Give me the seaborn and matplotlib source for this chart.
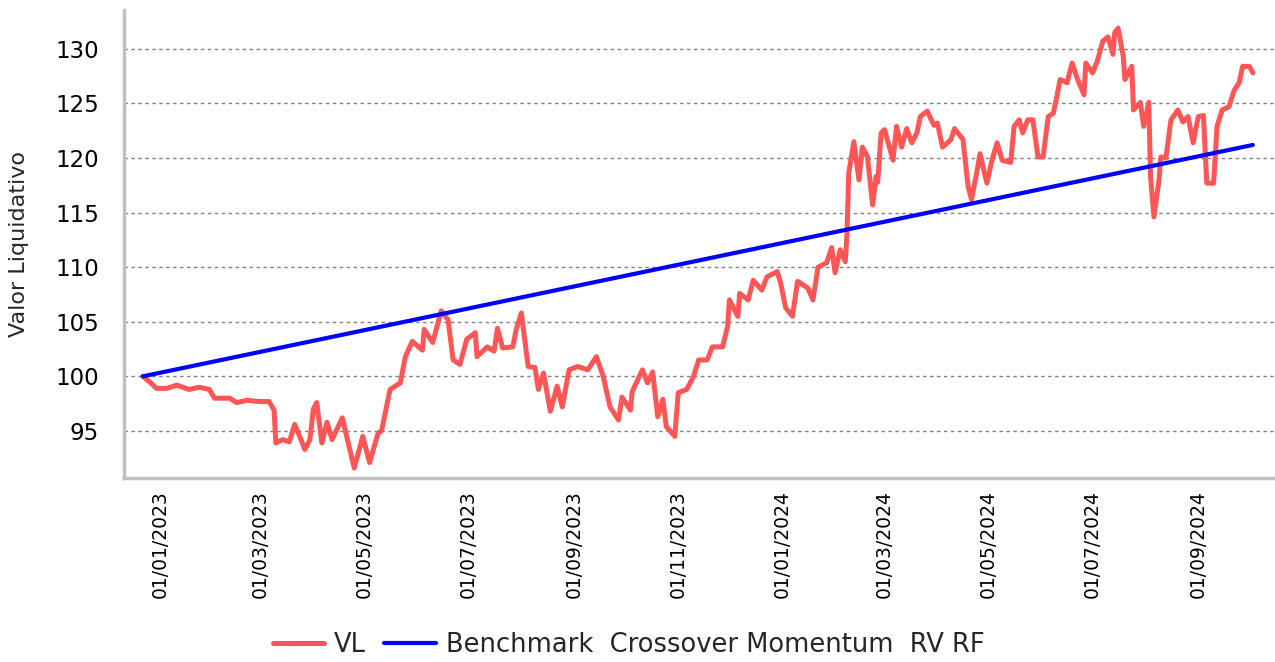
import matplotlib
matplotlib.use("Agg")
import matplotlib.pyplot as plt
import matplotlib.dates as mdates
import pandas as pd
import seaborn as sns

# Valor liquidativo (VL)
vl_datas = [
    "2022-12-22", "2022-12-26", "2022-12-30", "2023-01-05", "2023-01-11", "2023-01-18",
    "2023-01-24", "2023-01-30", "2023-02-02", "2023-02-11", "2023-02-15", "2023-02-21",
    "2023-02-28", "2023-03-06", "2023-03-09", "2023-03-10", "2023-03-14", "2023-03-18",
    "2023-03-21", "2023-03-24", "2023-03-27", "2023-03-30", "2023-04-01", "2023-04-03",
    "2023-04-06", "2023-04-09", "2023-04-12", "2023-04-18", "2023-04-21", "2023-04-25",
    "2023-04-30", "2023-05-04", "2023-05-09", "2023-05-11", "2023-05-16", "2023-05-22",
    "2023-05-25", "2023-05-29", "2023-06-04", "2023-06-05", "2023-06-10", "2023-06-15",
    "2023-06-19", "2023-06-22", "2023-06-26", "2023-06-30", "2023-07-05", "2023-07-06",
    "2023-07-12", "2023-07-16", "2023-07-18", "2023-07-21", "2023-07-27", "2023-07-29",
    "2023-08-01", "2023-08-05", "2023-08-09", "2023-08-11", "2023-08-14", "2023-08-18",
    "2023-08-22", "2023-08-25", "2023-08-29", "2023-09-03", "2023-09-09", "2023-09-14",
    "2023-09-18", "2023-09-22", "2023-09-27", "2023-09-29", "2023-10-04", "2023-10-05",
    "2023-10-11", "2023-10-14", "2023-10-17", "2023-10-20", "2023-10-23", "2023-10-25",
    "2023-10-30", "2023-11-01", "2023-11-06", "2023-11-10", "2023-11-13", "2023-11-18",
    "2023-11-21", "2023-11-27", "2023-11-30", "2023-12-01", "2023-12-06", "2023-12-07",
    "2023-12-12", "2023-12-15", "2023-12-20", "2023-12-23", "2023-12-29", "2023-12-31",
    "2024-01-03", "2024-01-07", "2024-01-10", "2024-01-16", "2024-01-19", "2024-01-22",
    "2024-01-27", "2024-01-30", "2024-02-01", "2024-02-04", "2024-02-07", "2024-02-08",
    "2024-02-09", "2024-02-12", "2024-02-15", "2024-02-17", "2024-02-20", "2024-02-23",
    "2024-02-25", "2024-02-26", "2024-02-28", "2024-03-01", "2024-03-06", "2024-03-08",
    "2024-03-11", "2024-03-14", "2024-03-17", "2024-03-20", "2024-03-22", "2024-03-26",
    "2024-03-30", "2024-04-01", "2024-04-04", "2024-04-09", "2024-04-11", "2024-04-16",
    "2024-04-19", "2024-04-21", "2024-04-24", "2024-04-26", "2024-04-30", "2024-05-03",
    "2024-05-06", "2024-05-09", "2024-05-14", "2024-05-16", "2024-05-19", "2024-05-21",
    "2024-05-24", "2024-05-27", "2024-05-30", "2024-06-02", "2024-06-05", "2024-06-08",
    "2024-06-10", "2024-06-12", "2024-06-16", "2024-06-19", "2024-06-22", "2024-06-26",
    "2024-06-27", "2024-07-01", "2024-07-04", "2024-07-07", "2024-07-10", "2024-07-13",
    "2024-07-14", "2024-07-16", "2024-07-19", "2024-07-20", "2024-07-24", "2024-07-25",
    "2024-07-29", "2024-07-31", "2024-08-03", "2024-08-04", "2024-08-06", "2024-08-09",
    "2024-08-10", "2024-08-13", "2024-08-16", "2024-08-20", "2024-08-23", "2024-08-26",
    "2024-08-29", "2024-09-01", "2024-09-04", "2024-09-06", "2024-09-10", "2024-09-12",
    "2024-09-15", "2024-09-19", "2024-09-22", "2024-09-25", "2024-09-27", "2024-10-01",
    "2024-10-03",
]
vl_valores = [
    100.0, 99.5, 98.9, 98.9, 99.2, 98.8,
    99.0, 98.8, 98.0, 98.0, 97.6, 97.8,
    97.7, 97.7, 96.9, 93.9, 94.2, 94.0,
    95.6, 94.5, 93.3, 94.2, 97.0, 97.6,
    93.9, 95.8, 94.2, 96.2, 94.2, 91.6,
    94.5, 92.1, 94.8, 95.0, 98.8, 99.4,
    101.8, 103.2, 102.4, 104.3, 103.1, 106.0,
    105.2, 101.5, 101.1, 103.4, 104.0, 101.8,
    102.7, 102.3, 104.4, 102.6, 102.7, 104.3,
    105.8, 100.9, 100.8, 98.8, 100.3, 96.8,
    99.1, 97.2, 100.6, 100.9, 100.6, 101.8,
    100.0, 97.2, 96.0, 98.1, 96.9, 98.6,
    100.6, 99.4, 100.4, 96.3, 97.9, 95.4,
    94.5, 98.5, 98.8, 100.0, 101.5, 101.5,
    102.7, 102.7, 104.6, 107.0, 105.5, 107.6,
    107.0, 108.8, 107.9, 109.1, 109.6, 108.6,
    106.3, 105.5, 108.7, 108.1, 107.0, 110.0,
    110.4, 111.8, 109.5, 111.6, 110.5, 113.1,
    118.6, 121.5, 118.0, 121.0, 120.1, 115.7,
    118.3, 117.8, 122.3, 122.6, 119.8, 122.9,
    121.0, 122.7, 121.4, 122.3, 123.8, 124.3,
    123.0, 123.2, 121.0, 121.7, 122.7, 121.7,
    117.4, 116.2, 118.6, 120.4, 117.7, 119.8,
    121.4, 119.8, 119.6, 122.9, 123.5, 122.3,
    123.5, 123.5, 120.1, 120.1, 123.8, 124.1,
    125.6, 127.2, 126.9, 128.7, 127.3, 125.8,
    128.7, 127.8, 129.0, 130.7, 131.1, 129.5,
    131.5, 131.9, 129.3, 127.2, 128.4, 124.4,
    125.1, 122.9, 125.1, 118.3, 114.6, 118.0,
    120.1, 120.0, 123.5, 124.4, 123.3, 123.8,
    121.4, 123.8, 123.9, 117.7, 117.7, 122.9,
    124.4, 124.7, 126.2, 126.9, 128.4, 128.4,
    127.8,
]

# Benchmark (recta)
bench_datas = ["2022-12-22", "2024-10-03"]
bench_valores = [100.0, 121.2]

df_vl = pd.DataFrame({"data": pd.to_datetime(vl_datas), "valor": vl_valores})
df_bench = pd.DataFrame({"data": pd.to_datetime(bench_datas), "valor": bench_valores})

sns.set_style("white")
plt.rcParams["font.family"] = ["DejaVu Sans"]

fig = plt.figure(figsize=(12.75, 6.62), dpi=100)
ax = fig.add_axes([0.0973, 0.278, 0.9027, 0.707])

sns.lineplot(data=df_vl, x="data", y="valor", color="#ff5555", linewidth=3.6,
             label="VL", ax=ax)
sns.lineplot(data=df_bench, x="data", y="valor", color="#0000ff", linewidth=3.0,
             label="Benchmark  Crossover Momentum  RV RF", ax=ax)

ax.set_xlim(pd.Timestamp("2022-12-11"), pd.Timestamp("2024-10-16"))
ax.set_ylim(90.69, 133.57)
ax.set_yticks(range(95, 131, 5))
ax.xaxis.set_major_locator(mdates.MonthLocator(bymonth=[1, 3, 5, 7, 9, 11], bymonthday=1))
ax.xaxis.set_major_formatter(mdates.DateFormatter("%d/%m/%Y"))
plt.setp(ax.get_xticklabels(), rotation=90)

ax.set_xlabel("")
ax.set_ylabel("Valor Liquidativo", fontsize=16)
ax.yaxis.set_label_coords(-0.083, 0.5)
ax.tick_params(axis="both", colors="#b0b0b0", labelcolor="black",
               length=5, width=1, direction="out")
ax.tick_params(axis="x", labelsize=13.5)
ax.tick_params(axis="y", labelsize=16.5, length=7, pad=11)

ax.yaxis.grid(True, color="#808080", linestyle=(0, (2.5, 2.5)), linewidth=1)
ax.xaxis.grid(False)
for lado in ["top", "right"]:
    ax.spines[lado].set_visible(False)
for lado in ["left", "bottom"]:
    ax.spines[lado].set_color("#c0c0c0")
    ax.spines[lado].set_linewidth(2.5)

handles, labels = ax.get_legend_handles_labels()
ax.get_legend().remove()
fig.legend(handles, labels, loc="center", bbox_to_anchor=(0.493, 0.026), ncol=2,
           frameon=False, fontsize=18.5, handlelength=2.0, handletextpad=0.4,
           columnspacing=0.7)

fig.savefig("out.png", dpi=100)
